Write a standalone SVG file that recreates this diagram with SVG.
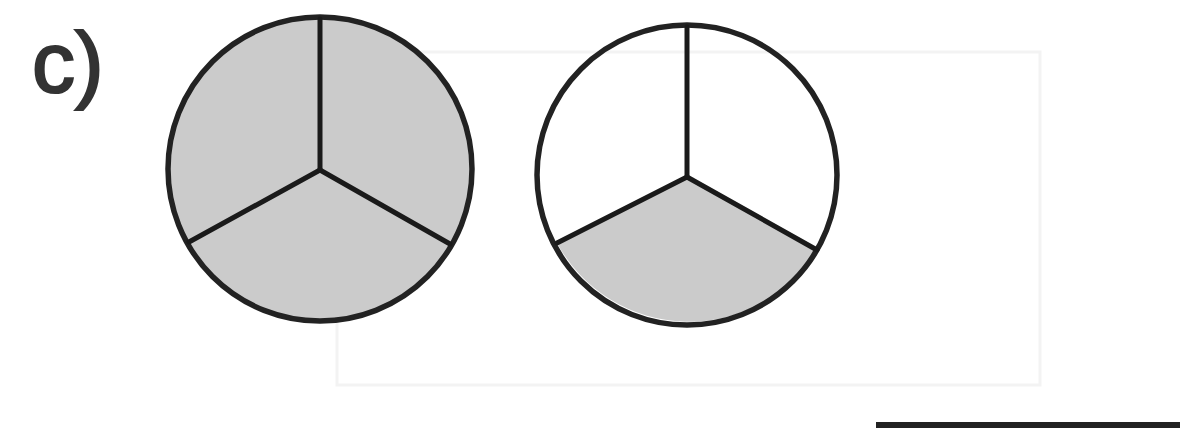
<svg xmlns="http://www.w3.org/2000/svg" width="1199" height="434" viewBox="0 0 1199 434">
<style>
.outline{fill:none;stroke:#222;stroke-width:5.5}
.spoke{stroke:#1a1a1a;stroke-width:5;stroke-linecap:round}
.shade{fill:#cbcbcb;stroke:none}
.label{font-family:"Liberation Sans",Arial,sans-serif;font-size:86px;fill:#333;stroke:#333;stroke-width:2.2}
</style>
<rect width="1199" height="434" fill="#ffffff"/>
<rect x="337" y="52" width="703" height="333" fill="none" stroke="#f3f3f3" stroke-width="3"/>
<g id="label">
<text class="label" x="32" y="92">c)</text>
</g>
<g id="circle1">
<circle class="shade" cx="320" cy="169" r="152"/>
<circle class="outline" cx="320" cy="169" r="152"/>
<line class="spoke" x1="320" y1="19" x2="320" y2="170"/>
<line class="spoke" x1="320" y1="170" x2="189" y2="242"/>
<line class="spoke" x1="320" y1="170" x2="450" y2="244"/>
</g>
<g id="circle2">
<path class="shade" d="M687,177 L557,243 A150,150 0 0 0 817,250 Z"/>
<circle class="outline" cx="687" cy="175" r="150"/>
<line class="spoke" x1="687" y1="27" x2="687" y2="177"/>
<line class="spoke" x1="687" y1="177" x2="557" y2="243"/>
<line class="spoke" x1="687" y1="177" x2="817" y2="250"/>
</g>
<g id="answer-line">
<line x1="876" y1="425" x2="1180" y2="425" stroke="#222" stroke-width="6"/>
</g>
</svg>
